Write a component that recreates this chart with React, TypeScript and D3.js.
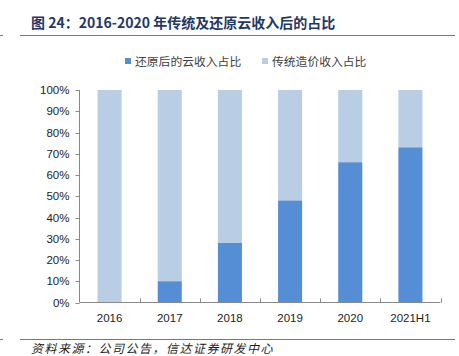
import React, { useEffect, useRef } from "react";
import * as d3 from "d3";

const categories = ["2016", "2017", "2018", "2019", "2020", "2021H1"];
const cloudShare = [0, 10, 28, 48, 66, 73];
const traditionalShare = [100, 90, 72, 52, 34, 27];
const yTicks = [0, 10, 20, 30, 40, 50, 60, 70, 80, 90, 100];
const seriesNames = ["还原后的云收入占比", "传统造价收入占比"];
const title = "图 24：2016-2020 年传统及还原云收入后的占比";
const source = "资料来源：公司公告，信达证券研发中心";

const W = 459;
const H = 356;
const COLORS = ["#558ED5", "#B9CDE5"];

export default function App() {
  const ref = useRef<SVGSVGElement>(null);

  useEffect(() => {
    const svg = d3.select(ref.current);
    svg.selectAll("*").remove();

    const left = 79.5, right = 440.5, top = 90, bottom = 302.5;
    const x = d3.scaleBand().domain(categories).range([left, right]).paddingInner(0.6).paddingOuter(0.3);
    const y = d3.scaleLinear().domain([0, 100]).range([bottom, top]);

    svg.append("rect").attr("width", W).attr("height", H).attr("fill", "#fff");

    // Title
    svg.append("text").attr("x", 31).attr("y", 28)
      .attr("font-family", "'Noto Sans CJK SC', sans-serif").attr("font-weight", "bold")
      .attr("font-size", 14).attr("fill", "#1F3864").text(title);
    svg.append("line").attr("x1", 20).attr("x2", 455).attr("y1", 35.5).attr("y2", 35.5)
      .attr("stroke", "#5B7BB5").attr("stroke-width", 1);
    svg.append("line").attr("x1", 0).attr("x2", 3).attr("y1", 35.5).attr("y2", 35.5)
      .attr("stroke", "#5B7BB5").attr("stroke-width", 1);

    // Legend
    const legendX = [125, 262];
    seriesNames.forEach((n, i) => {
      svg.append("rect").attr("x", legendX[i]).attr("y", 58).attr("width", 6).attr("height", 6).attr("fill", COLORS[i]);
      svg.append("text").attr("x", legendX[i] + 10).attr("y", 65.5)
        .attr("font-family", "'Noto Sans CJK SC', sans-serif").attr("font-size", 11.8)
        .attr("fill", "#404040").text(n);
    });

    // Bars
    const stacked = categories.map((c, i) => ({ c, a: cloudShare[i], b: traditionalShare[i] }));
    const g = svg.append("g");
    g.selectAll(".b").data(stacked).join("rect")
      .attr("x", d => x(d.c)!).attr("width", x.bandwidth())
      .attr("y", d => y(d.a + d.b)).attr("height", d => y(d.a) - y(d.a + d.b))
      .attr("fill", COLORS[1]);
    g.selectAll(".a").data(stacked).join("rect")
      .attr("x", d => x(d.c)!).attr("width", x.bandwidth())
      .attr("y", d => y(d.a)).attr("height", d => y(0) - y(d.a))
      .attr("fill", COLORS[0]);

    // Y axis
    const axisColor = "#888";
    svg.append("line").attr("x1", left).attr("x2", left).attr("y1", top).attr("y2", bottom)
      .attr("stroke", axisColor);
    yTicks.forEach(t => {
      const yy = Math.round(y(t)) + 0.5;
      svg.append("line").attr("x1", left - 4).attr("x2", left).attr("y1", yy).attr("y2", yy).attr("stroke", axisColor);
      svg.append("text").attr("x", left - 10).attr("y", y(t) + 4).attr("text-anchor", "end")
        .attr("font-family", "'Liberation Sans', Arial, sans-serif").attr("font-size", 11.5)
        .attr("fill", "#222").text(t + "%");
    });

    // X axis
    svg.append("line").attr("x1", left).attr("x2", right).attr("y1", bottom).attr("y2", bottom).attr("stroke", axisColor);
    const step = x.step();
    const x0 = x(categories[0])! - x.paddingOuter() * step;
    categories.forEach((c, i) => {
      const xx = Math.round(x0 + (i + 1) * step) + 0.5;
      svg.append("line").attr("x1", xx).attr("x2", xx).attr("y1", bottom).attr("y2", bottom - 4).attr("stroke", axisColor);
      svg.append("text").attr("x", x(c)! + x.bandwidth() / 2).attr("y", 322).attr("text-anchor", "middle")
        .attr("font-family", "'Liberation Sans', Arial, sans-serif").attr("font-size", 11.5)
        .attr("fill", "#222").text(c);
    });

    // Source
    svg.append("line").attr("x1", 20).attr("x2", 455).attr("y1", 339.5).attr("y2", 339.5)
      .attr("stroke", "#5B7BB5").attr("stroke-width", 1);
    svg.append("line").attr("x1", 0).attr("x2", 3).attr("y1", 339.5).attr("y2", 339.5)
      .attr("stroke", "#5B7BB5").attr("stroke-width", 1);
    svg.append("text").attr("x", 31).attr("y", 353)
      .attr("font-family", "'Noto Sans CJK SC', sans-serif").attr("font-style", "italic")
      .attr("font-size", 12).attr("letter-spacing", 1.5).attr("fill", "#222").text(source);
  }, []);

  return (
    <svg ref={ref} width={W} height={H} style={{ position: "absolute", left: 0, top: 0 }} />
  );
}
